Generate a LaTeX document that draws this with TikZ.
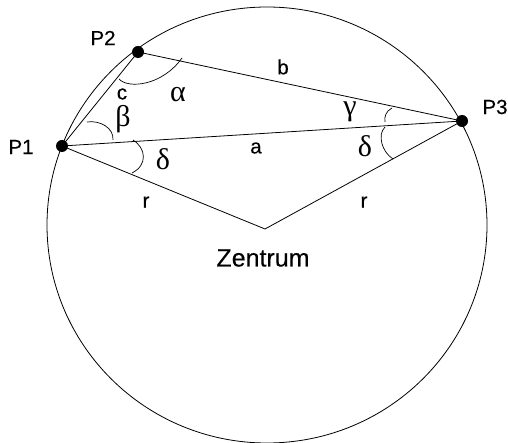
\documentclass[tikz,border=0pt]{standalone}
\usepackage{fontspec}
\setmainfont{Liberation Sans}
\newfontfamily\lab{Liberation Sans}[BoldFont={Liberation Sans},BoldFeatures={FakeBold=0.25}]
\newfontfamily\grk{Liberation Serif}
\begin{document}
\begin{tikzpicture}[x=1pt,y=-1pt,
  line width=0.8pt,
  dot/.style={circle,fill=black,inner sep=0pt,minimum size=12pt},
  lbl/.style={inner sep=0pt,font=\lab\bfseries\fontsize{20.5}{24}\selectfont},
  glbl/.style={inner sep=0pt,font=\grk\fontsize{30}{34}\selectfont},
  anglemark/.style={line width=0.7pt}]
\useasboundingbox (0,0) rectangle (508,443);
\draw (267,225) ellipse [x radius=220pt, y radius=218pt];
\node[dot] (p1) at (62,146) {};
\node[dot] (p2) at (138,52) {};
\node[dot] (p3) at (462,121) {};
\coordinate (z) at (265,229);
\draw (p1.center) -- (p2.center) -- (p3.center) -- (p1.center);
\draw (p1.center) -- (z) -- (p3.center);
% angle marks
\draw[anglemark] (119,79) .. controls (128,89) and (162,86) .. (182,58);
\draw[anglemark] (87,122) .. controls (100,120) and (114,128) .. (113,140);
\draw[anglemark] (133,140) .. controls (146,148) and (148,165) .. (132,173);
\draw[anglemark] (392,108) .. controls (386,111) and (384,117) .. (385,122);
\draw[anglemark] (385,127) .. controls (377,135) and (382,152) .. (393,159);
% labels
\node[lbl] (lp1) at (21,147) {P1};
\node[lbl] (lp2) at (103,38) {P2};
\node[lbl] (lp3) at (495,107) {P3};
\node[lbl] (lc) at (122,94) {c};
\node[lbl] (lb) at (283,67) {b};
\node[lbl] (la) at (256,148) {a};
\node[lbl] (lr1) at (146,202) {r};
\node[lbl] (lr2) at (364,202) {r};
\node[lbl,font=\lab\bfseries\fontsize{25}{29}\selectfont] (lz) at (263,258) {Zentrum};
\node[glbl] (lal) at (178,95) {α};
\node[glbl] (lbe) at (123,119) {β};
\node[glbl] (lde1) at (163,159) {δ};
\node[glbl] (lga) at (350,112) {γ};
\node[glbl] (lde2) at (365,146) {δ};
\end{tikzpicture}
\end{document}
